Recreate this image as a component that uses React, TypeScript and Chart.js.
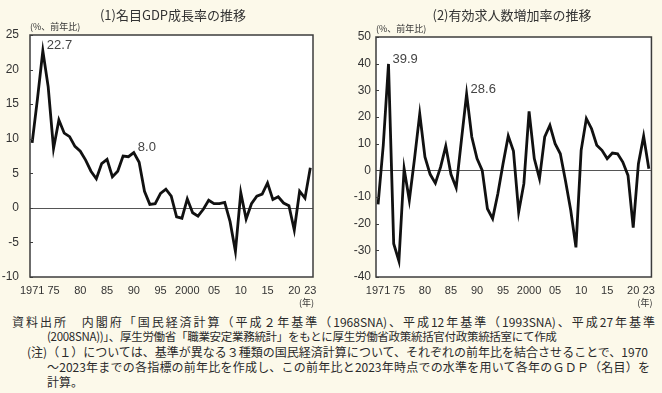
import React, { useEffect, useRef } from "react";
import { Chart, registerables } from "chart.js";

Chart.register(...registerables);

// ---------- data ----------
const years = [
  1971, 1972, 1973, 1974, 1975, 1976, 1977, 1978, 1979, 1980,
  1981, 1982, 1983, 1984, 1985, 1986, 1987, 1988, 1989, 1990,
  1991, 1992, 1993, 1994, 1995, 1996, 1997, 1998, 1999, 2000,
  2001, 2002, 2003, 2004, 2005, 2006, 2007, 2008, 2009, 2010,
  2011, 2012, 2013, 2014, 2015, 2016, 2017, 2018, 2019, 2020,
  2021, 2022, 2023,
];

const gdpGrowth = [
  9.4, 15.8, 22.7, 17.5, 8.6, 12.7, 10.8, 10.3, 8.9, 8.2,
  6.9, 5.3, 4.2, 6.4, 7.0, 4.5, 5.3, 7.5, 7.4, 8.0,
  6.6, 2.4, 0.5, 0.6, 2.1, 2.7, 1.7, -1.3, -1.5, 1.3,
  -0.7, -1.2, -0.2, 1.1, 0.6, 0.6, 0.8, -2.0, -6.3, 2.2,
  -1.6, 0.6, 1.7, 2.0, 3.6, 1.2, 1.6, 0.7, 0.3, -3.2,
  2.4, 1.4, 5.8,
];

const jobGrowth = [
  -12.8, 9.5, 39.9, -27.5, -34.0, 0.6, -11.2, 4.4, 21.2, 5.0,
  -1.5, -4.8, 1.2, 9.1, -1.5, -6.5, 11.2, 28.6, 12.5, 4.4,
  0.0, -14.4, -18.1, -8.8, 2.5, 12.9, 7.2, -15.6, -5.0, 22.1,
  4.4, -3.1, 12.5, 16.9, 10.0, 6.2, -4.0, -15.0, -28.9, 7.5,
  19.4, 15.6, 9.4, 7.5, 4.4, 6.5, 6.2, 3.1, -1.9, -21.5,
  2.5, 12.8, 0.6,
];

const xTickValues = [1971, 1975, 1980, 1985, 1990, 1995, 2000, 2005, 2010, 2015, 2020, 2023];
const xTickLabels = ["1971", "75", "80", "85", "90", "95", "2000", "05", "10", "15", "20", "23"];

const gdpAxis = { min: -10, max: 25, step: 5 };
const jobAxis = { min: -40, max: 50, step: 10 };

const gdpCallouts = [
  { year: 1973, text: "22.7" },
  { year: 1990, text: "8.0" },
];
const jobCallouts = [
  { year: 1973, text: "39.9" },
  { year: 1988, text: "28.6" },
];

const titleGdp = "(1)名目GDP成長率の推移";
const titleJob = "(2)有効求人数増加率の推移";
const unitText = "(%、前年比)";
const yearUnit = "(年)";

const noteLines = [
  "資料出所　内閣府「国民経済計算（平成２年基準（1968SNA)、平成12年基準（1993SNA)、平成27年基準",
  "(2008SNA))」、厚生労働省「職業安定業務統計」をもとに厚生労働省政策統括官付政策統括室にて作成",
  "(注)（１）については、基準が異なる３種類の国民経済計算について、それぞれの前年比を結合させることで、1970",
  "～2023年までの各指標の前年比を作成し、この前年比と2023年時点での水準を用いて各年のＧＤＰ（名目）を",
  "計算。",
];

// ---------- styling ----------
const BG = "#fcf9ea";
const CJK = '"Noto Sans CJK JP", "Noto Sans", sans-serif';
const NUM = '"Liberation Sans", Arial, sans-serif';

type Cfg = {
  values: number[];
  axis: { min: number; max: number; step: number };
  callouts: { year: number; text: string }[];
  title: string;
  titleX: number;
  axisWidth: number;
  tickPad: number;
  padRight: number;
  padTop: number;
};

function makeDecor(cfg: Cfg) {
  return {
    id: "decor",
    beforeDraw(chart: any) {
      const { ctx, chartArea: a } = chart;
      ctx.save();
      ctx.fillStyle = "#ffffff";
      ctx.fillRect(a.left, a.top, a.right - a.left, a.bottom - a.top);
      ctx.restore();
    },
    beforeDatasetsDraw(chart: any) {
      const { ctx, chartArea: a } = chart;
      const y0 = Math.round(chart.scales.y.getPixelForValue(0)) + 0.5;
      ctx.save();
      ctx.strokeStyle = "#555555";
      ctx.lineWidth = 1;
      ctx.beginPath();
      ctx.moveTo(a.left, y0);
      ctx.lineTo(a.right, y0);
      ctx.stroke();
      ctx.restore();
    },
    afterDraw(chart: any) {
      const { ctx, chartArea: a } = chart;
      const ys = chart.scales.y;
      const xs = chart.scales.x;
      ctx.save();
      // frame
      ctx.strokeStyle = "#3c3c3c";
      ctx.lineWidth = 1.5;
      ctx.strokeRect(a.left, a.top, a.right - a.left, a.bottom - a.top);
      // inner tick marks on the y axis
      ctx.lineWidth = 1;
      ys.ticks.forEach((t: any) => {
        const py = Math.round(ys.getPixelForValue(t.value)) + 0.5;
        ctx.beginPath();
        ctx.moveTo(a.left, py);
        ctx.lineTo(a.left + 3, py);
        ctx.stroke();
      });
      // title
      ctx.fillStyle = "#333333";
      ctx.font = `13px ${CJK}`;
      ctx.textAlign = "center";
      ctx.textBaseline = "middle";
      ctx.fillText(cfg.title, cfg.titleX, 15);
      // unit
      ctx.font = `9px ${CJK}`;
      ctx.textAlign = "left";
      ctx.fillText(unitText, a.left, a.top - 8);
      // year unit
      ctx.textAlign = "right";
      ctx.fillText(yearUnit, a.right + 1, a.bottom + 26);
      // callouts
      ctx.font = `13px ${NUM}`;
      ctx.fillStyle = "#444444";
      ctx.textAlign = "left";
      cfg.callouts.forEach((c) => {
        const i = years.indexOf(c.year);
        const px = xs.getPixelForValue(c.year);
        const py = ys.getPixelForValue(cfg.values[i]);
        ctx.fillText(c.text, px + 4, py - 5);
      });
      ctx.restore();
    },
  };
}

function LineChart({ cfg }: { cfg: Cfg }) {
  const ref = useRef<HTMLCanvasElement | null>(null);
  useEffect(() => {
    if (!ref.current) return;
    const chart = new Chart(ref.current, {
      type: "line",
      data: {
        datasets: [
          {
            data: years.map((y, i) => ({ x: y, y: cfg.values[i] })),
            borderColor: "#111111",
            borderWidth: 2.8,
            pointRadius: 0,
            tension: 0,
            fill: false,
            borderJoinStyle: "miter",
          },
        ],
      },
      options: {
        animation: false,
        responsive: false,
        maintainAspectRatio: false,
        devicePixelRatio: 1,
        layout: { padding: { left: 0, right: cfg.padRight, top: cfg.padTop, bottom: 0 } },
        plugins: {
          legend: { display: false },
          tooltip: { enabled: false },
          title: { display: false },
        },
        scales: {
          x: {
            type: "linear",
            min: 1970.6,
            max: 2023.5,
            afterBuildTicks: (s: any) => {
              s.ticks = xTickValues.map((v) => ({ value: v }));
            },
            afterFit: (s: any) => {
              s.height = 33;
            },
            grid: { display: false, drawTicks: false },
            border: { display: false },
            ticks: {
              autoSkip: false,
              maxRotation: 0,
              minRotation: 0,
              padding: 7,
              color: "#333333",
              font: { family: NUM, size: 11 },
              callback: (_v: any, i: number) => xTickLabels[i],
            },
          },
          y: {
            min: cfg.axis.min,
            max: cfg.axis.max,
            afterFit: (s: any) => {
              s.width = cfg.axisWidth;
            },
            grid: { display: false, drawTicks: false },
            border: { display: false },
            ticks: {
              stepSize: cfg.axis.step,
              padding: cfg.tickPad,
              color: "#333333",
              font: { family: NUM, size: 12 },
            },
          },
        },
      },
      plugins: [makeDecor(cfg)],
    } as any);
    return () => chart.destroy();
  }, [cfg]);
  return <canvas ref={ref} width={331} height={310} style={{ display: "block" }} />;
}

const leftCfg: Cfg = {
  values: gdpGrowth,
  axis: gdpAxis,
  callouts: gdpCallouts,
  title: titleGdp,
  titleX: 173,
  axisWidth: 30,
  tickPad: 11,
  padRight: 18,
  padTop: 35,
};

const rightCfg: Cfg = {
  values: jobGrowth,
  axis: jobAxis,
  callouts: jobCallouts,
  title: titleJob,
  titleX: 181,
  axisWidth: 45,
  tickPad: 5,
  padRight: 5,
  padTop: 37,
};

const noteLayout = [
  { indent: 12, width: 643, justify: true, size: 12, spacing: 0 },
  { indent: 47, width: 600, justify: false, size: 11.5, spacing: -0.3 },
  { indent: 27, width: 621, justify: true, size: 12, spacing: 0 },
  { indent: 47, width: 603, justify: true, size: 12, spacing: 0 },
  { indent: 47, width: 100, justify: false, size: 12, spacing: 0 },
];

export default function App() {
  return (
    <div
      style={{
        position: "absolute",
        left: 0,
        top: 0,
        width: 662,
        height: 393,
        background: BG,
        overflow: "hidden",
      }}
    >
      <div style={{ position: "absolute", left: 0, top: 0 }}>
        <LineChart cfg={leftCfg} />
      </div>
      <div style={{ position: "absolute", left: 331, top: 0 }}>
        <LineChart cfg={rightCfg} />
      </div>
      <div style={{ position: "absolute", left: 0, top: 314, width: 662 }}>
        {noteLines.map((t, i) => (
          <div
            key={i}
            style={{
              display: "block",
              marginLeft: noteLayout[i].indent,
              width: noteLayout[i].width,
              height: 15,
              lineHeight: "15px",
              fontSize: noteLayout[i].size,
              letterSpacing: noteLayout[i].spacing,
              fontFamily: CJK,
              color: "#2a2a2a",
              whiteSpace: "nowrap",
              textAlign: noteLayout[i].justify ? "justify" : "left",
              textAlignLast: noteLayout[i].justify ? "justify" : "left",
            } as any}
          >
            {t}
          </div>
        ))}
      </div>
    </div>
  );
}
